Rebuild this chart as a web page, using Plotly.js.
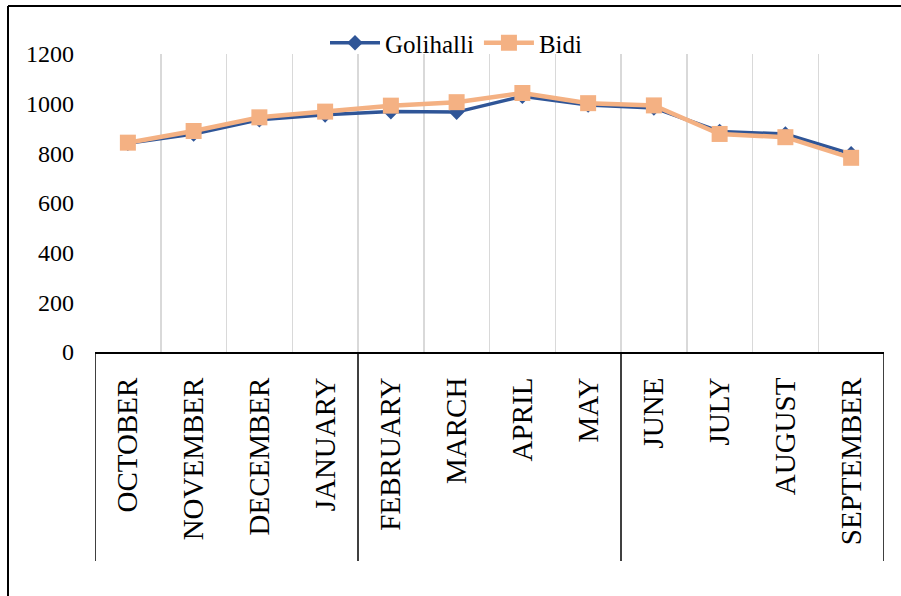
<!DOCTYPE html>
<html>
<head>
<meta charset="utf-8">
<script src="https://cdn.plot.ly/plotly-3.0.1.min.js"></script>
<style>
html,body{margin:0;padding:0;background:#fff;}
#chart{width:901px;height:596px;}
</style>
</head>
<body>
<div id="chart"></div>
<script>
var months = ["OCTOBER","NOVEMBER","DECEMBER","JANUARY","FEBRUARY","MARCH","APRIL","MAY","JUNE","JULY","AUGUST","SEPTEMBER"];
var golihalli = [841, 878, 935, 955, 968, 966, 1030, 995, 983, 888, 878, 798];
var bidi = [843, 890, 945, 968, 992, 1006, 1043, 1002, 993, 878, 865, 782];
var yTicks = [0, 200, 400, 600, 800, 1000, 1200];
var groupEdges = [-0.5, 3.5, 7.5, 11.5];

var W = 901, H = 596;
var mL = 95, mR = 17, mT = 54, mB = 244;
var pw = W - mL - mR, ph = H - mT - mB;
function px2x(p){ return (p - mL) / pw; }
function py2y(p){ return (H - mB - p) / ph; }

var traces = [
  {x: months, y: golihalli, name: "Golihalli", type: "scatter", mode: "lines+markers",
   line: {color: "#2F5597", width: 3.5},
   marker: {symbol: "diamond", size: 12, color: "#2F5597"}},
  {x: months, y: bidi, name: "Bidi", type: "scatter", mode: "lines+markers",
   line: {color: "#F4B183", width: 4.5},
   marker: {symbol: "square", size: 16, color: "#F4B183"}}
];

var shapes = [];
groupEdges.forEach(function(e){
  shapes.push({type: "line", xref: "x", yref: "paper", x0: e, x1: e,
    y0: 0, y1: py2y(561), line: {color: "#000", width: 1.5}, layer: "above"});
});
// outer chart border (left and top visible)
shapes.push({type: "line", xref: "paper", yref: "paper", x0: px2x(8), x1: px2x(8),
  y0: py2y(6), y1: py2y(610), line: {color: "#000", width: 2}});
shapes.push({type: "line", xref: "paper", yref: "paper", x0: px2x(8), x1: px2x(910),
  y0: py2y(6), y1: py2y(6), line: {color: "#000", width: 2}});

var layout = {
  width: W, height: H,
  margin: {l: mL, r: mR, t: mT, b: mB, pad: 0},
  paper_bgcolor: "#fff", plot_bgcolor: "#fff",
  font: {family: "Liberation Serif, Times New Roman, serif", color: "#000", size: 24},
  showlegend: true,
  legend: {orientation: "h", x: px2x(325), xanchor: "left", y: py2y(43), yanchor: "middle",
    font: {size: 25, family: "Liberation Serif, serif", color: "#000"},
    bgcolor: "rgba(0,0,0,0)", itemwidth: 50, traceorder: "normal"},
  xaxis: {type: "category", range: [-0.5, 11.5], tickson: "boundaries",
    showgrid: true, gridcolor: "#d9d9d9", gridwidth: 1.5,
    showline: true, linecolor: "#000", linewidth: 2,
    ticks: "", tickangle: -90, ticklabelstandoff: 12,
    tickfont: {size: 29, family: "Liberation Serif, serif", color: "#000"},
    zeroline: false, fixedrange: true},
  yaxis: {range: [0, 1200], tickvals: yTicks, ticktext: yTicks.map(String),
    showgrid: false, zeroline: false, showline: false, ticks: "",
    ticklabelstandoff: 20,
    tickfont: {size: 24, family: "Liberation Serif, serif", color: "#000"},
    fixedrange: true},
  shapes: shapes
};

Plotly.newPlot("chart", traces, layout, {displayModeBar: false, staticPlot: true});
</script>
</body>
</html>
